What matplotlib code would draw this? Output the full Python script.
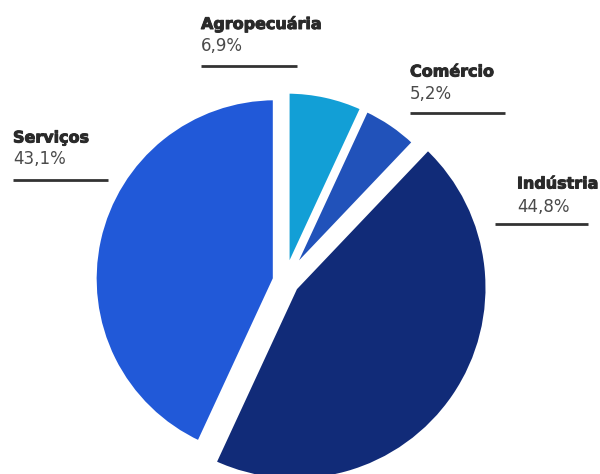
import matplotlib.pyplot as plt
import matplotlib.patheffects as pe

# Participação de cada setor (%)
categories = ["Agropecuária", "Comércio", "Indústria", "Serviços"]
shares = [6.9, 5.2, 44.8, 43.1]
colors = ["#129FD6", "#2152BA", "#112B78", "#2159D8"]

W, H = 600, 474
fig = plt.figure(figsize=(W / 100, H / 100), dpi=100)
ax = fig.add_axes([0, 0, 1, 1])

center = (285, H - 281)
base_r = 180
offsets = [10, 10, 12, 10]

wedges, _ = ax.pie(
    shares,
    startangle=90,
    counterclock=False,
    center=center,
    radius=base_r,
    explode=offsets,
    colors=colors,
    wedgeprops=dict(linewidth=3.5, edgecolor="white"),
)
# the industry slice is drawn a little larger than the rest
wedges[2].set_radius(193)
wedges[3].set_radius(181)

ax.set_xlim(0, W)
ax.set_ylim(0, H)
ax.set_aspect("auto")
ax.axis("off")

# label blocks: (x text, y name, y value, x0 line, x1 line, y line) in pixels from top
label_layout = {
    "Agropecuária": (201, 24, 46, 201, 297, 66),
    "Comércio": (410, 72, 94, 410, 505, 113),
    "Indústria": (517, 184, 207, 495, 588, 224),
    "Serviços": (13, 138, 159, 13, 108, 180),
}

name_color = "#2a2a2a"
name_font = dict(family="DejaVu Sans", weight="bold", size=11.5, color=name_color)
value_font = dict(family="DejaVu Sans", weight="normal", size=12, color="#4a4a4a")
heavy = [pe.withStroke(linewidth=0.7, foreground=name_color)]

for cat, val in zip(categories, shares):
    xt, yn, yv, x0, x1, yl = label_layout[cat]
    ax.text(xt, H - yn, cat, ha="left", va="center", path_effects=heavy,
            **name_font)
    ax.text(xt, H - yv, f"{val:.1f}".replace(".", ",") + "%", ha="left",
            va="center", **value_font)
    ax.plot([x0, x1], [H - yl, H - yl], color="#333333", lw=2.0,
            solid_capstyle="butt")

fig.savefig("out.png", dpi=100)
